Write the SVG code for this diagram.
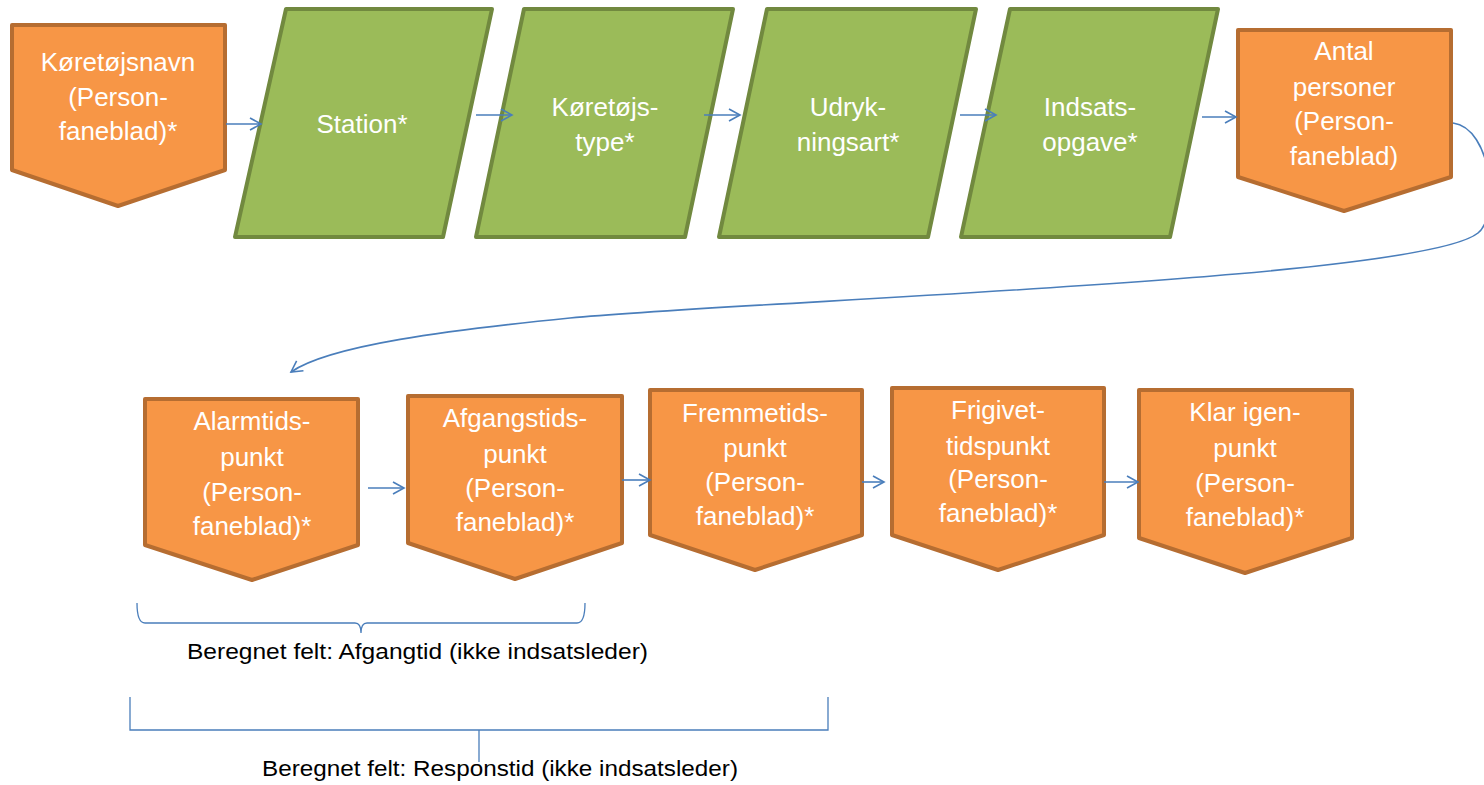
<svg xmlns="http://www.w3.org/2000/svg" width="1484" height="785" viewBox="0 0 1484 785">
<defs>
<style>
.o{fill:#F79646;stroke:#B66D31;stroke-width:4;stroke-linejoin:round}
.g{fill:#9BBB59;stroke:#71893F;stroke-width:4;stroke-linejoin:round}
.t{fill:#FFFFFF;font-family:"Liberation Sans",Arial,sans-serif;font-size:26px;text-anchor:middle}
.c{fill:none;stroke:#4A7EBB;stroke-width:1.6}
.b{fill:none;stroke:#4A7EBB;stroke-width:1.3}
.l{fill:#000000;font-family:"Liberation Sans",Arial,sans-serif;font-size:22px}
</style>
<marker id="a" markerWidth="14" markerHeight="14" refX="12" refY="7" orient="auto" markerUnits="userSpaceOnUse">
<path d="M1,1 L12,7 L1,13" fill="none" stroke="#4A7EBB" stroke-width="1.6"/>
</marker>
</defs>
<rect width="1484" height="785" fill="#FFFFFF"/>
<g id="n1"><path class="o" d="M12,25 L225,25 L225,170 L118,206 L12,170 Z"/>
<text class="t" x="118" y="71">Køretøjsnavn</text><text class="t" x="118" y="106">(Person-</text><text class="t" x="118" y="140">faneblad)*</text></g>
<g id="n2"><path class="g" d="M286,9 L492,9 L443,237 L235,237 Z"/>
<text class="t" x="362" y="133">Station*</text></g>
<g id="n3"><path class="g" d="M524,9 L733,9 L685,237 L476,237 Z"/>
<text class="t" x="605" y="116">Køretøjs-</text><text class="t" x="605" y="151">type*</text></g>
<g id="n4"><path class="g" d="M767,9 L976,9 L928,237 L719,237 Z"/>
<text class="t" x="848" y="116">Udryk-</text><text class="t" x="848" y="151">ningsart*</text></g>
<g id="n5"><path class="g" d="M1010,9 L1218,9 L1170,237 L961,237 Z"/>
<text class="t" x="1090" y="116">Indsats-</text><text class="t" x="1090" y="151">opgave*</text></g>
<g id="n6"><path class="o" d="M1238,30 L1451,30 L1451,177 L1344,211 L1238,177 Z"/>
<text class="t" x="1344" y="60">Antal</text><text class="t" x="1344" y="96">personer</text><text class="t" x="1344" y="130">(Person-</text><text class="t" x="1344" y="165">faneblad)</text></g>
<g id="n7"><path class="o" d="M145,399 L358,399 L358,545 L252,580 L145,545 Z"/>
<text class="t" x="252" y="430">Alarmtids-</text><text class="t" x="252" y="466">punkt</text><text class="t" x="252" y="501">(Person-</text><text class="t" x="252" y="535">faneblad)*</text></g>
<g id="n8"><path class="o" d="M408,396 L622,396 L622,543 L515,579 L408,543 Z"/>
<text class="t" x="515" y="427">Afgangstids-</text><text class="t" x="515" y="463">punkt</text><text class="t" x="515" y="497">(Person-</text><text class="t" x="515" y="531">faneblad)*</text></g>
<g id="n9"><path class="o" d="M650,390 L862,390 L862,535 L755,570 L650,535 Z"/>
<text class="t" x="755" y="422">Fremmetids-</text><text class="t" x="755" y="457">punkt</text><text class="t" x="755" y="491">(Person-</text><text class="t" x="755" y="525">faneblad)*</text></g>
<g id="n10"><path class="o" d="M892,388 L1104,388 L1104,535 L998,570 L892,535 Z"/>
<text class="t" x="998" y="419">Frigivet-</text><text class="t" x="998" y="455">tidspunkt</text><text class="t" x="998" y="488">(Person-</text><text class="t" x="998" y="522">faneblad)*</text></g>
<g id="n11"><path class="o" d="M1139,390 L1352,390 L1352,538 L1245,573 L1139,538 Z"/>
<text class="t" x="1245" y="421">Klar igen-</text><text class="t" x="1245" y="457">punkt</text><text class="t" x="1245" y="492">(Person-</text><text class="t" x="1245" y="526">faneblad)*</text></g>
<g id="connectors">
<line class="c" x1="226" y1="124" x2="261" y2="124" marker-end="url(#a)"/>
<line class="c" x1="476" y1="115" x2="512" y2="115" marker-end="url(#a)"/>
<line class="c" x1="704" y1="115" x2="740" y2="115" marker-end="url(#a)"/>
<line class="c" x1="960" y1="115" x2="996" y2="115" marker-end="url(#a)"/>
<line class="c" x1="1202" y1="117" x2="1236" y2="117" marker-end="url(#a)"/>
<path class="c" d="M1453,123 C1492,128 1500,215 1478,233 C1420,280 760,300 570,318 C450,330 330,345 291,372" marker-end="url(#a)"/>
<line class="c" x1="368" y1="488" x2="404" y2="488" marker-end="url(#a)"/>
<line class="c" x1="622" y1="480" x2="650" y2="480" marker-end="url(#a)"/>
<line class="c" x1="862" y1="482" x2="884" y2="482" marker-end="url(#a)"/>
<line class="c" x1="1104" y1="482" x2="1138" y2="482" marker-end="url(#a)"/>
<path class="b" d="M137,603 Q137,623 145,623 L355,623 Q361,623 361,633 Q361,623 367,623 L577,623 Q585,623 585,603"/>
<path class="b" d="M130,697 L130,730 L828,730 L828,697 M479,730 L479,762"/>
</g>
<text class="l" x="187" y="659" textLength="461" lengthAdjust="spacingAndGlyphs">Beregnet felt: Afgangtid (ikke indsatsleder)</text>
<text class="l" x="262" y="776" textLength="476" lengthAdjust="spacingAndGlyphs">Beregnet felt: Responstid (ikke indsatsleder)</text>
</svg>
